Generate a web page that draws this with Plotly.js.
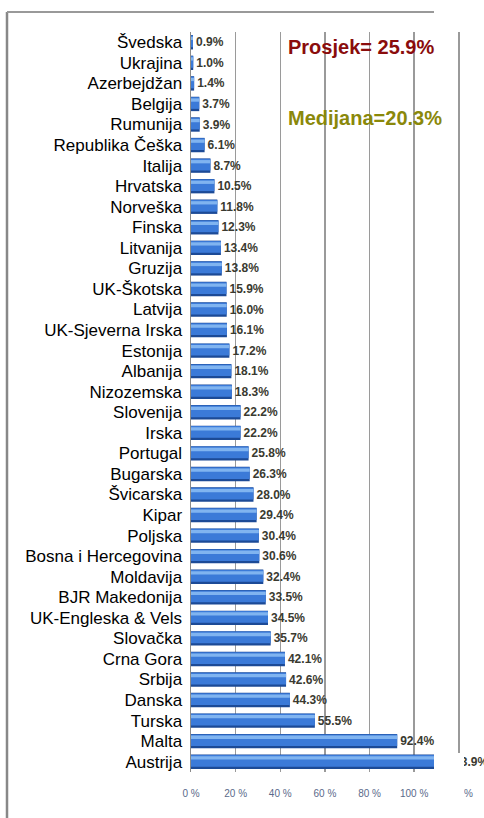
<!DOCTYPE html>
<html>
<head>
<meta charset="utf-8">
<script src="https://cdn.plot.ly/plotly-3.0.1.min.js"></script>
<style>
html,body{margin:0;padding:0;background:#fff;}
#chart{width:484px;height:818px;}
</style>
</head>
<body>
<div id="chart"></div>
<script>
const countries = ["Švedska","Ukrajina","Azerbejdžan","Belgija","Rumunija","Republika Češka","Italija","Hrvatska","Norveška","Finska","Litvanija","Gruzija","UK-Škotska","Latvija","UK-Sjeverna Irska","Estonija","Albanija","Nizozemska","Slovenija","Irska","Portugal","Bugarska","Švicarska","Kipar","Poljska","Bosna i Hercegovina","Moldavija","BJR Makedonija","UK-Engleska & Vels","Slovačka","Crna Gora","Srbija","Danska","Turska","Malta","Austrija"];
const values = [0.9,1.0,1.4,3.7,3.9,6.1,8.7,10.5,11.8,12.3,13.4,13.8,15.9,16.0,16.1,17.2,18.1,18.3,22.2,22.2,25.8,26.3,28.0,29.4,30.4,30.6,32.4,33.5,34.5,35.7,42.1,42.6,44.3,55.5,92.4,113.9];
const tickVals = [0,20,40,60,80,100,120];
const tickText = ["0 %","20 %","40 %","60 %","80 %","100 %","120 %"];
const meanText = "Prosjek= 25.9%";
const medianText = "Medijana=20.3%";

const W = 484, H = 818;
const M = {l:191, r:0, t:32, b:46};
const px = p => (p - M.l) / (W - M.l - M.r);
const py = q => (H - M.b - q) / (H - M.t - M.b);

const traces = [
  {type:'bar', orientation:'h', y:countries, x:values, offset:-0.35, width:0.7,
   marker:{color:'#1c4a96', line:{width:0}},
   text:values.map(v=>v.toFixed(1)+'%'), textposition:'outside', cliponaxis:false,
   textfont:{family:'Liberation Sans Narrow, Liberation Sans, Arial', size:12, color:'#3a3a30', weight:'bold'},
   hoverinfo:'none'},
  {type:'bar', orientation:'h', y:countries, x:values, offset:-0.33, width:0.57,
   marker:{color:'#3b7ad8', line:{width:0}}, hoverinfo:'none'},
  {type:'bar', orientation:'h', y:countries, x:values, offset:-0.27, width:0.16,
   marker:{color:'#80b4f0', line:{width:0}}, hoverinfo:'none'}
];

const layout = {
  width:W, height:H, margin:M, paper_bgcolor:'#fff', plot_bgcolor:'#fff',
  barmode:'overlay', showlegend:false,
  xaxis:{range:[0,131.3], tickvals:tickVals, ticktext:tickText, showgrid:true,
         gridcolor:'#9a9a9a', gridwidth:1.5, zeroline:false, showline:false,
         ticks:'outside', ticklen:12, tickcolor:'rgba(0,0,0,0)',
         tickfont:{family:'Liberation Sans Narrow, Liberation Sans, Arial', size:10, color:'#5a6a8a'}},
  yaxis:{type:'category', autorange:'reversed', showgrid:false, zeroline:false,
         showline:true, linecolor:'#8a8a8a', linewidth:1.5, ticks:'', ticklabelstandoff:4,
         tickfont:{family:'Liberation Sans, Arial', size:17, color:'#000'}},
  shapes:[
    {type:'rect', xref:'paper', yref:'paper', x0:px(284), x1:px(484), y0:py(145), y1:py(14), fillcolor:'#fff', line:{width:0}, layer:'between'},
    {type:'rect', xref:'paper', yref:'paper', x0:px(434), x1:px(464), y0:py(812), y1:py(753), fillcolor:'#fff', line:{width:0}, layer:'above'},
    {type:'line', xref:'paper', yref:'paper', x0:px(7), x1:px(7), y0:py(818), y1:py(12), line:{color:'#888', width:2.5}},
    {type:'line', xref:'paper', yref:'paper', x0:px(7), x1:px(434), y0:py(12), y1:py(12), line:{color:'#999', width:2}}
  ],
  annotations:[
    {xref:'paper', yref:'paper', x:px(286), y:py(47), xanchor:'left', yanchor:'middle', showarrow:false,
     text:meanText, font:{family:'Liberation Sans, Arial', size:20, color:'#8a0c0c', weight:'bold'}},
    {xref:'paper', yref:'paper', x:px(286), y:py(118), xanchor:'left', yanchor:'middle', showarrow:false,
     text:medianText, font:{family:'Liberation Sans, Arial', size:20, color:'#8a880a', weight:'bold'}}
  ]
};

Plotly.newPlot('chart', traces, layout, {displayModeBar:false, staticPlot:true});
</script>
</body>
</html>
